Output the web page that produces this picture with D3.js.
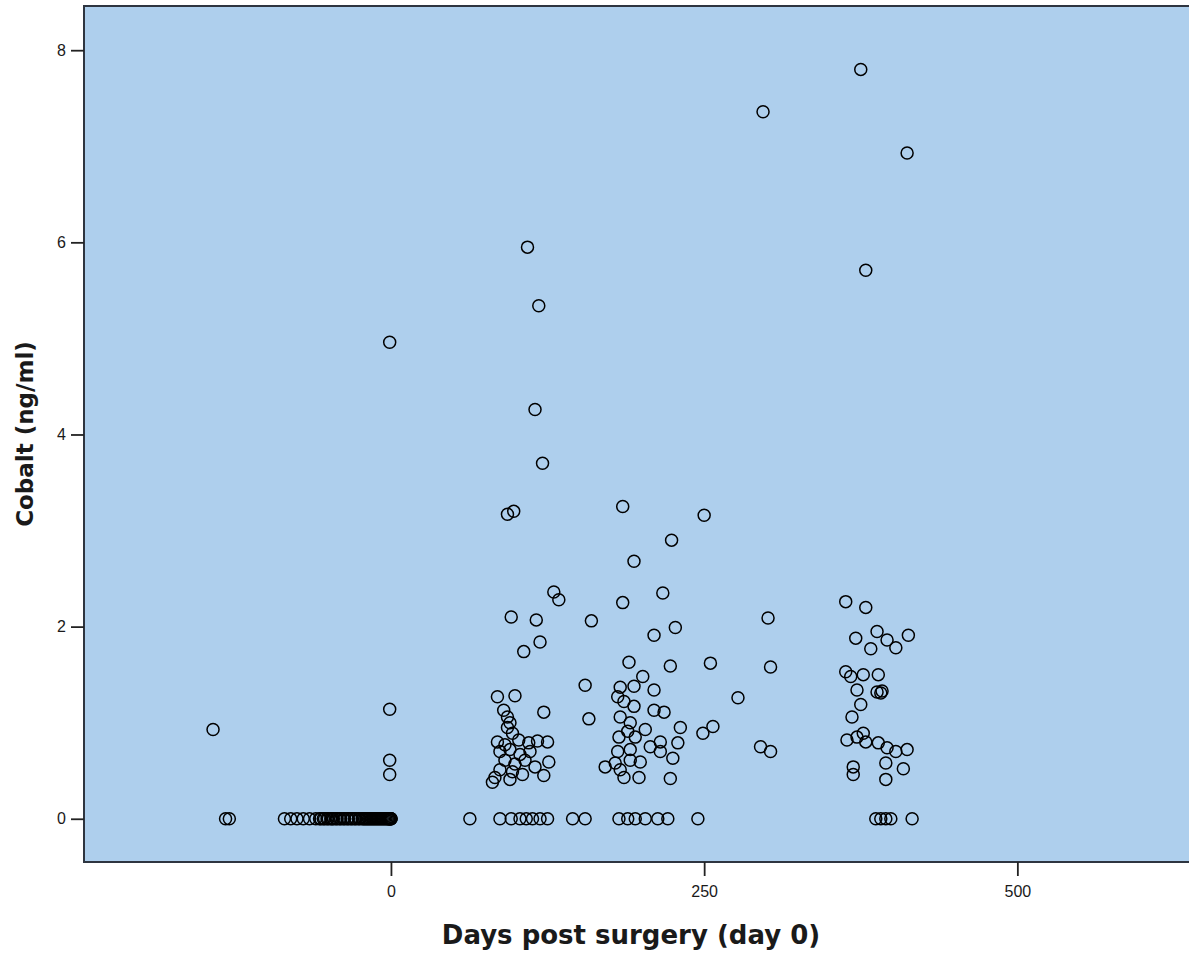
<!DOCTYPE html>
<html>
<head>
<meta charset="utf-8">
<script src="https://cdn.jsdelivr.net/npm/d3@7"></script>
<style>
  body { margin: 0; background: #fff; }
  svg { display: block; }
  .tick text { font-family: "Liberation Sans", Arial, sans-serif; font-size: 16px; fill: #1a1a1a; }
  .tick line { stroke: #222; stroke-width: 1.8; }
  .title { font-family: "DejaVu Sans", Verdana, sans-serif; font-weight: bold; fill: #1a1a1a; }
</style>
</head>
<body>
<div id="chart-div"></div>
<script>
// Script globals
const CHART_WIDTH = 1189
const CHART_HEIGHT = 953

// [days post surgery, cobalt ng/ml], grouped by visit
const preOp = [
  [-142, 0.93], [-132, 0], [-129, 0],
  [-85, 0], [-80, 0], [-75, 0], [-70, 0], [-65, 0], [-60, 0], [-57, 0], [-56, 0], [-54, 0], [-53, 0],
  [-51, 0], [-50, 0], [-48, 0], [-47, 0], [-46, 0], [-44, 0], [-43, 0], [-41, 0], [-40, 0], [-38, 0],
  [-37, 0], [-35, 0], [-34, 0], [-32, 0], [-31, 0], [-29, 0], [-28, 0], [-26, 0], [-25, 0], [-23, 0],
  [-22, 0], [-21, 0], [-20, 0], [-19, 0], [-18, 0], [-17, 0], [-16, 0], [-15, 0], [-14, 0], [-13, 0],
  [-12, 0], [-11, 0], [-10, 0], [-9, 0], [-8, 0], [-7, 0], [-6, 0], [-5, 0], [-4, 0], [-3, 0],
  [-2, 0], [-2, 0], [-1, 0], [-1, 0], [0, 0], [0, 0], [0, 0],
  [-1, 4.96], [-1, 1.14], [-1, 0.61], [-1, 0.46]
]

const month3 = [
  [63, 0], [87, 0], [96, 0], [103, 0], [108, 0], [113, 0], [119, 0], [125, 0], [145, 0], [155, 0],
  [109, 5.95], [118, 5.34], [115, 4.26], [121, 3.70], [93, 3.17], [98, 3.20],
  [130, 2.36], [134, 2.28], [96, 2.10], [116, 2.07], [160, 2.06], [119, 1.84], [106, 1.74],
  [155, 1.39], [85, 1.27], [99, 1.28], [122, 1.11], [158, 1.04],
  [90, 1.13], [93, 1.06], [95, 1.00], [93, 0.95], [97, 0.89],
  [85, 0.80], [91, 0.77], [102, 0.82], [110, 0.79], [117, 0.81], [125, 0.80],
  [87, 0.70], [95, 0.72], [103, 0.67], [111, 0.70],
  [91, 0.61], [99, 0.57], [107, 0.61], [115, 0.54], [126, 0.59],
  [87, 0.51], [97, 0.49], [105, 0.46], [122, 0.45], [83, 0.43], [81, 0.38], [95, 0.41]
]

const month6 = [
  [182, 0], [189, 0], [195, 0], [203, 0], [213, 0], [221, 0], [245, 0],
  [185, 3.25], [250, 3.16], [224, 2.90], [194, 2.68], [217, 2.35], [185, 2.25],
  [227, 1.99], [210, 1.91], [190, 1.63], [255, 1.62], [223, 1.59], [201, 1.48],
  [183, 1.37], [194, 1.38], [210, 1.34], [277, 1.26], [181, 1.27], [186, 1.22],
  [194, 1.17], [210, 1.13], [218, 1.11], [183, 1.06], [191, 1.00], [189, 0.91],
  [195, 0.85], [231, 0.95], [249, 0.89], [257, 0.96], [182, 0.85], [215, 0.80],
  [229, 0.79], [207, 0.75], [215, 0.70], [225, 0.63], [171, 0.54], [179, 0.58],
  [183, 0.51], [191, 0.61], [199, 0.59], [186, 0.43], [198, 0.43], [223, 0.42],
  [181, 0.70], [191, 0.72], [203, 0.93]
]

const month12 = [
  [375, 7.80], [297, 7.36], [412, 6.93], [379, 5.71],
  [301, 2.09], [303, 1.58], [295, 0.75], [303, 0.70],
  [363, 2.26], [379, 2.20], [371, 1.88], [388, 1.95], [396, 1.86], [413, 1.91],
  [383, 1.77], [403, 1.78], [363, 1.53], [367, 1.48], [377, 1.50], [389, 1.50],
  [372, 1.34], [388, 1.32], [391, 1.31], [392, 1.33], [375, 1.19], [368, 1.06],
  [364, 0.82], [372, 0.85], [377, 0.89], [379, 0.80], [389, 0.79], [396, 0.74],
  [403, 0.70], [412, 0.72], [395, 0.58], [409, 0.52], [369, 0.54], [369, 0.46],
  [395, 0.41],
  [387, 0], [391, 0], [395, 0], [399, 0], [416, 0]
]

const xTicks = [0, 250, 500]
const yTicks = [0, 2, 4, 6, 8]

init();

function init () {
  const svg = d3.select("#chart-div").append("svg")
    .attr("width", CHART_WIDTH)
    .attr("height", CHART_HEIGHT)

  const marginLeft = 84
  const marginTop = 6
  const plotBottom = 862

  // scales: 0 days at 390.7px, 500 days at 1016.7px; 0 ng/ml at 819, 8 at 50
  const x = d3.scaleLinear()
    .domain([-245, 637])
    .range([marginLeft, CHART_WIDTH])
  const y = d3.scaleLinear()
    .domain([-0.45, 8.46])
    .range([plotBottom, marginTop])

  // plot background
  svg.append("rect")
    .attr("x", marginLeft)
    .attr("y", marginTop)
    .attr("width", CHART_WIDTH - marginLeft + 4)
    .attr("height", plotBottom - marginTop)
    .attr("fill", "#aecfed")
    .attr("stroke", "#2e3540")
    .attr("stroke-width", 2)

  // axes
  const xAxis = svg.append("g")
    .attr("transform", `translate(0,${plotBottom})`)
    .call(d3.axisBottom(x).tickValues(xTicks).tickSize(14).tickPadding(10).tickFormat(d3.format("d")))
  xAxis.select(".domain").remove()

  const yAxis = svg.append("g")
    .attr("transform", `translate(${marginLeft},0)`)
    .call(d3.axisLeft(y).tickValues(yTicks).tickSize(13).tickPadding(5).tickFormat(d3.format("d")))
  yAxis.select(".domain").remove()

  // points
  const data = [].concat(preOp, month3, month6, month12)
  svg.append("g").selectAll("circle")
    .data(data)
    .enter().append("circle")
      .attr("cx", d => x(d[0]))
      .attr("cy", d => y(d[1]))
      .attr("r", 6)
      .attr("fill", "none")
      .attr("stroke", "#000")
      .attr("stroke-width", 1.5)

  // titles
  svg.append("text")
    .attr("class", "title")
    .attr("x", 631)
    .attr("y", 944)
    .attr("text-anchor", "middle")
    .style("font-size", "26px")
    .text("Days post surgery (day 0)")

  svg.append("text")
    .attr("class", "title")
    .attr("transform", "translate(33,434) rotate(-90)")
    .attr("text-anchor", "middle")
    .style("font-size", "23px")
    .text("Cobalt (ng/ml)")
}
</script>
</body>
</html>
